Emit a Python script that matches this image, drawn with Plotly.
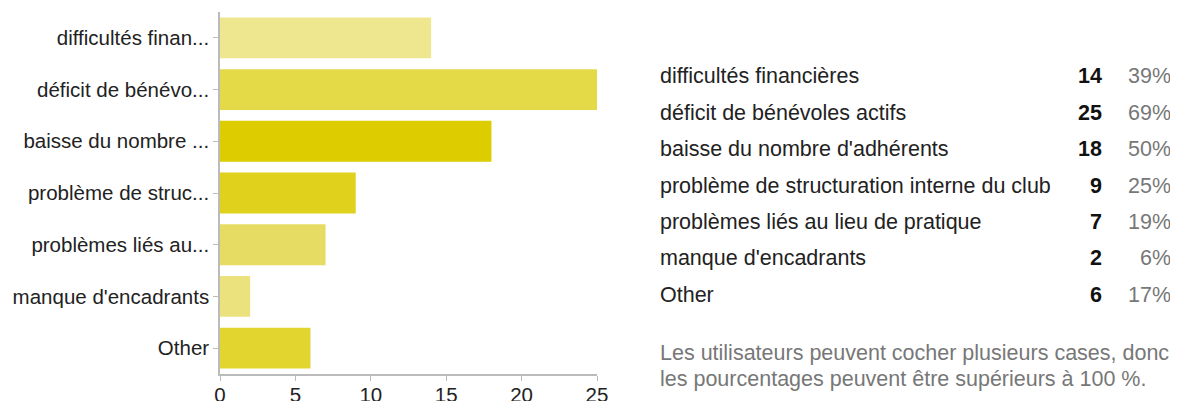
import plotly.graph_objects as go

categories = [
    "difficultés financières",
    "déficit de bénévoles actifs",
    "baisse du nombre d'adhérents",
    "problème de structuration interne du club",
    "problèmes liés au lieu de pratique",
    "manque d'encadrants",
    "Other",
]
short_labels = [
    "difficultés finan...",
    "déficit de bénévo...",
    "baisse du nombre ...",
    "problème de struc...",
    "problèmes liés au...",
    "manque d'encadrants",
    "Other",
]
counts = [14, 25, 18, 9, 7, 2, 6]
percents = ["39%", "69%", "50%", "25%", "19%", "6%", "17%"]
bar_colors = ["#efe790", "#e4da48", "#dccc00", "#e0d11c", "#e6dc63", "#ebe27d", "#e2d530"]
x_ticks = [0, 5, 10, 15, 20, 25]
footnote = ["Les utilisateurs peuvent cocher plusieurs cases, donc",
            "les pourcentages peuvent être supérieurs à 100 %."]

# page body has an 8px margin; compensate so screen pixels match the reference
OFF = 8
W, H = 1178 - OFF, 401 - OFF
L, R, T, B = 220 - OFF, 581, 12 - OFF, 27
PW, PH = W - L - R, H - T - B

def px(x):
    return (x - OFF - L) / PW

def py(y):
    return (H - B - (y - OFF)) / PH

FONT = "Liberation Sans, Arial, sans-serif"
AX_SIZE = 20.5
TB_SIZE = 21.5

fig = go.Figure(go.Bar(
    x=counts, y=categories, orientation="h",
    marker=dict(color=bar_colors, line=dict(width=0)),
    hoverinfo="x+y",
))

fig.update_layout(
    width=W, height=H,
    margin=dict(l=L, r=R, t=T, b=B, pad=0, autoexpand=False),
    paper_bgcolor="white", plot_bgcolor="white",
    bargap=0.21, showlegend=False,
    font=dict(family=FONT, size=AX_SIZE, color="#222222"),
    xaxis=dict(range=[0, 25], tickvals=x_ticks, showgrid=False, zeroline=False,
               showline=True, linecolor="#bbbbbb", linewidth=1.5, automargin=False,
               ticks="outside", ticklen=5, tickcolor="#bbbbbb",
               ticklabelstandoff=-3,
               tickfont=dict(size=AX_SIZE, color="#222222")),
    yaxis=dict(autorange="reversed", tickvals=categories, ticktext=short_labels,
               showgrid=False, zeroline=False, showline=True, automargin=False,
               linecolor="#bbbbbb", linewidth=1.5,
               ticks="outside", ticklen=5, tickcolor="#bbbbbb",
               tickfont=dict(size=AX_SIZE, color="#222222")),
)

row_y = [76, 113, 149, 186, 222, 258, 295]
ann = []
for i, cat in enumerate(categories):
    ann.append(dict(x=px(658), y=py(row_y[i]), xref="paper", yref="paper",
                    text=cat, showarrow=False, xanchor="left", yanchor="middle",
                    font=dict(size=TB_SIZE, color="#222222", family=FONT)))
    ann.append(dict(x=px(1104), y=py(row_y[i]), xref="paper", yref="paper",
                    text="<b>%d</b>" % counts[i], showarrow=False, xanchor="right",
                    yanchor="middle", font=dict(size=TB_SIZE, color="#111111", family=FONT)))
    ann.append(dict(x=px(1173), y=py(row_y[i]), xref="paper", yref="paper",
                    text=percents[i], showarrow=False, xanchor="right",
                    yanchor="middle", font=dict(size=TB_SIZE, color="#777777", family=FONT)))
for j, line in enumerate(footnote):
    ann.append(dict(x=px(658), y=py([353, 379][j]), xref="paper", yref="paper",
                    text=line, showarrow=False, xanchor="left", yanchor="middle",
                    font=dict(size=TB_SIZE, color="#777777", family=FONT)))
fig.update_layout(annotations=ann)

fig.write_html("out.html")
